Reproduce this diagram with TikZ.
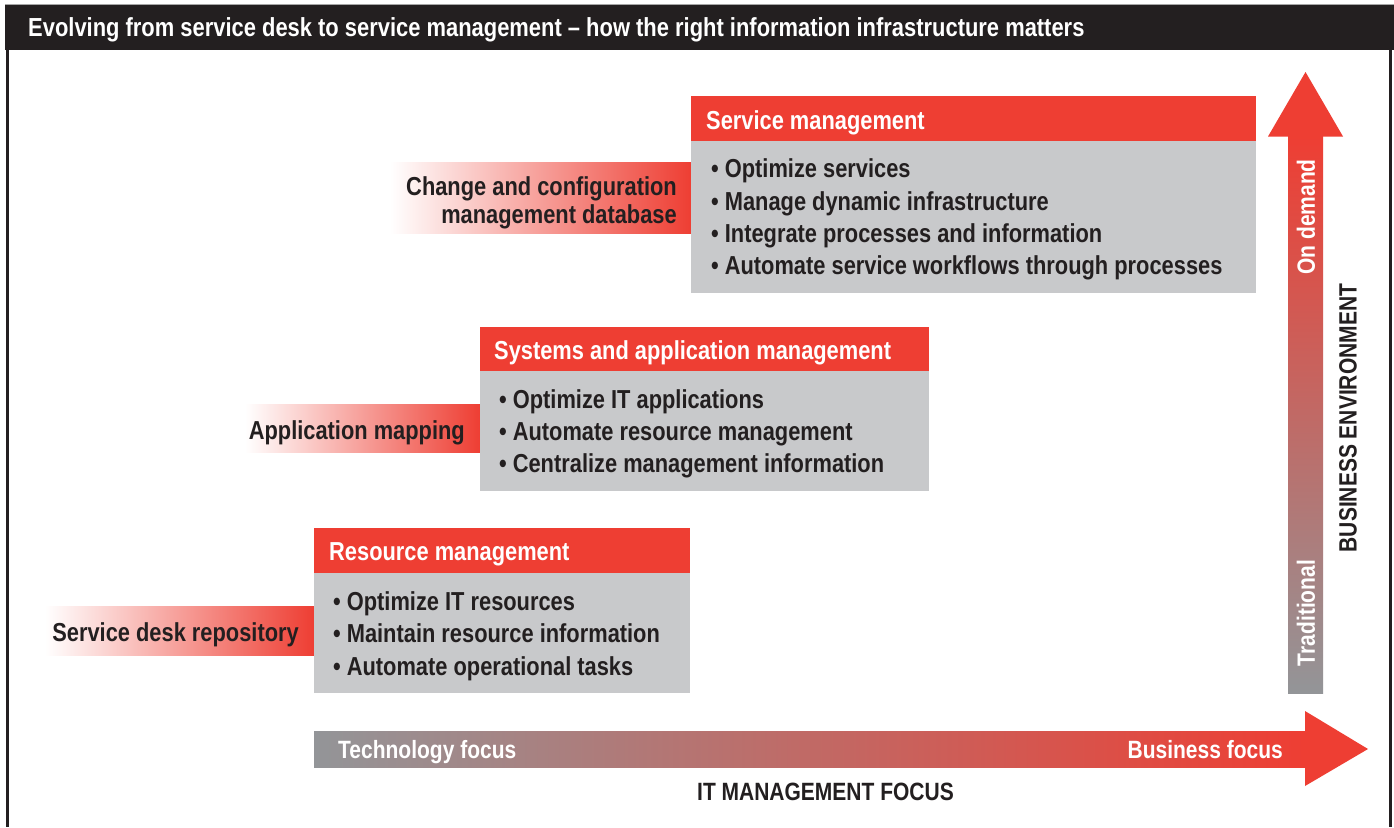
\documentclass[tikz,border=0pt]{standalone}
\usepackage{fontspec}
\setmainfont{Liberation Sans}[FakeStretch=0.84]
\definecolor{rd}{HTML}{EE3E33}
\definecolor{gy}{HTML}{C8C9CB}
\definecolor{dk}{HTML}{231F20}
\definecolor{ax}{HTML}{939598}
\definecolor{axmid}{HTML}{C87A66}
\definecolor{salmon}{HTML}{F4A086}
\tikzset{
  txt/.style={font=\bfseries\fontsize{26}{32.3}\selectfont, inner sep=0pt, text=dk},
  wtxt/.style={txt, text=white},
  axtxt/.style={font=\bfseries\fontsize{25}{30}\selectfont, inner sep=0pt, text=dk},
  waxtxt/.style={axtxt, text=white},
  headbar/.style={fill=rd},
  bodybox/.style={fill=gy},
  fadebar/.style={left color=white, middle color=salmon, right color=rd},
}
\newcommand{\bul}{•\hspace{6pt}}
\begin{document}
\begin{tikzpicture}[x=1pt,y=-1pt]
\useasboundingbox (0,0) rectangle (1394,827);
\fill[white] (0,0) rectangle (1394,827);
% frame
\fill[dk] (5,4) rectangle (1394,50);
\draw[black!35, line width=0.8pt] (5,4) -- (1394,4);
\fill[dk] (6,50) rectangle (8.5,827);
\fill[dk] (1388.5,50) rectangle (1391.5,827);
\node[waxtxt, anchor=base west, font=\bfseries\fontsize{26.1}{30}\selectfont] (title) at (28,36.5)
  {Evolving from service desk to service management -- how the right information infrastructure matters};

% left gradient labels
\shade[fadebar] (390,162) rectangle (691,233);
\shade[fadebar] (245,404) rectangle (480,452);
\shade[fadebar] (45,606) rectangle (314,655);

% service management box
\fill[headbar] (691,96) rectangle (1256,141);
\fill[bodybox] (691,141) rectangle (1256,293);
\node[wtxt, anchor=base west] (smh) at (706,129) {Service management};
\node[txt, anchor=west, align=left] (smb) at (711,219.5)
  {\bul Optimize services\\
   \bul Manage dynamic infrastructure\\
   \bul Integrate processes and information\\
   \bul Automate service workflows through processes};
\node[txt, anchor=east, align=right, font=\bfseries\fontsize{26}{28}\selectfont] (ccmd) at (677,202.5)
  {Change and configuration\\management database};

% systems and application box
\fill[headbar] (480,327) rectangle (929,371);
\fill[bodybox] (480,371) rectangle (929,491);
\node[wtxt, anchor=base west] (sah) at (494,359.5) {Systems and application management};
\node[txt, anchor=west, align=left] (sab) at (499,434)
  {\bul Optimize IT applications\\
   \bul Automate resource management\\
   \bul Centralize management information};
\node[txt, anchor=base east] (apm) at (465,439.3) {Application mapping};

% resource management box
\fill[headbar] (314,528) rectangle (690,573);
\fill[bodybox] (314,573) rectangle (690,693);
\node[wtxt, anchor=base west] (rmh) at (329,560.5) {Resource management};
\node[txt, anchor=west, align=left] (rmb) at (333,636)
  {\bul Optimize IT resources\\
   \bul Maintain resource information\\
   \bul Automate operational tasks};
\node[txt, anchor=base east] (sdr) at (299,641.3) {Service desk repository};

% vertical arrow
\shade[bottom color=ax, middle color=axmid, top color=rd] (1288,136) rectangle (1323,693);
\fill[rd] (1268,136.5) -- (1305.5,72) -- (1343,136.5) -- cycle;
\node[waxtxt, rotate=90] (ond) at (1306,217) {On demand};
\node[waxtxt, rotate=90] (trad) at (1306,613) {Traditional};
\node[axtxt, rotate=90] (benv) at (1348,418) {BUSINESS ENVIRONMENT};

% horizontal arrow
\shade[left color=ax, middle color=axmid, right color=rd] (314,731) rectangle (1305.5,767);
\fill[rd] (1305,711) -- (1368,749) -- (1305,786) -- cycle;
\node[waxtxt, anchor=base west] (tech) at (338,758) {Technology focus};
\node[waxtxt, anchor=base east] (bus) at (1283,758) {Business focus};
\node[axtxt, anchor=base] (itm) at (825.5,800) {IT MANAGEMENT FOCUS};
\end{tikzpicture}
\end{document}
